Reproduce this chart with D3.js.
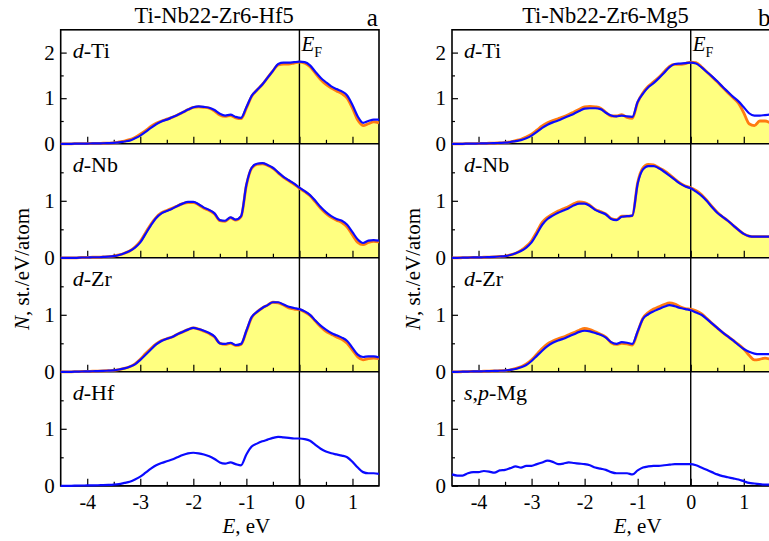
<!doctype html>

<meta charset="utf-8">
<title>Partial DOS Ti-Nb22-Zr6</title>

<style>
body { margin: 0; background: #fff; }
svg { display: block; }
svg text { font-family: "Liberation Serif", "Times New Roman", Times, serif; }
</style>

<svg id="visual" width="769" height="541"></svg>

<script src="https://cdn.jsdelivr.net/npm/d3@7"></script>

<script>

// (energy grid, eV)
var energy = [
	-4.5, -4.4, -4.3, -4.2, -4.1, -4.0, -3.9, -3.8, -3.7, -3.6,
	-3.5, -3.4, -3.3, -3.2, -3.1, -3.0, -2.9, -2.8, -2.7, -2.6,
	-2.5, -2.4, -2.3, -2.2, -2.1, -2.0, -1.9, -1.8, -1.7, -1.6,
	-1.5, -1.4, -1.3, -1.2, -1.1, -1.0, -0.9, -0.8, -0.7, -0.6,
	-0.5, -0.4, -0.3, -0.2, -0.1, 0.0, 0.1, 0.2, 0.3, 0.4,
	0.5, 0.6, 0.7, 0.8, 0.9, 1.0, 1.1, 1.2, 1.3, 1.4,
	1.5
];

// (Ti-Nb22-Zr6-Hf5)
var hfTiBlue = [
	0, 0, 0, 0.003, 0.005, 0.006, 0.008, 0.01, 0.012, 0.015,
	0.02, 0.03, 0.05, 0.07, 0.12, 0.18, 0.26, 0.35, 0.43, 0.49,
	0.53, 0.58, 0.63, 0.69, 0.75, 0.80, 0.82, 0.81, 0.79, 0.74,
	0.66, 0.62, 0.64, 0.59, 0.57, 0.80, 1.05, 1.18, 1.30, 1.45,
	1.60, 1.75, 1.78, 1.78, 1.79, 1.80, 1.79, 1.72, 1.58, 1.45,
	1.35, 1.26, 1.20, 1.15, 1.06, 0.85, 0.60, 0.46, 0.50, 0.53,
	0.53
];
var hfTiOrange = [
	0, 0, 0, 0.003, 0.005, 0.006, 0.008, 0.01, 0.012, 0.015,
	0.02, 0.04, 0.06, 0.09, 0.14, 0.21, 0.29, 0.38, 0.45, 0.50,
	0.54, 0.58, 0.63, 0.69, 0.75, 0.80, 0.81, 0.80, 0.78, 0.72,
	0.63, 0.60, 0.62, 0.57, 0.55, 0.78, 1.04, 1.18, 1.30, 1.45,
	1.60, 1.73, 1.75, 1.75, 1.77, 1.79, 1.77, 1.69, 1.55, 1.41,
	1.30, 1.22, 1.16, 1.10, 1.00, 0.78, 0.52, 0.40, 0.44, 0.48,
	0.46
];
var hfNbBlue = [
	0, 0, 0, 0, 0.005, 0.005, 0.01, 0.01, 0.015, 0.02,
	0.03, 0.05, 0.08, 0.12, 0.18, 0.27, 0.42, 0.57, 0.70, 0.78,
	0.82, 0.86, 0.91, 0.95, 0.98, 0.98, 0.94, 0.88, 0.84, 0.78,
	0.66, 0.65, 0.71, 0.67, 0.73, 1.28, 1.58, 1.65, 1.66, 1.63,
	1.58, 1.50, 1.42, 1.36, 1.30, 1.23, 1.17, 1.10, 1.00, 0.89,
	0.80, 0.73, 0.68, 0.65, 0.58, 0.45, 0.32, 0.26, 0.30, 0.31,
	0.30
];
var hfNbOrange = [
	0, 0, 0, 0, 0.005, 0.005, 0.01, 0.01, 0.015, 0.02,
	0.03, 0.05, 0.08, 0.12, 0.19, 0.29, 0.44, 0.59, 0.71, 0.79,
	0.83, 0.87, 0.91, 0.95, 0.97, 0.97, 0.93, 0.87, 0.83, 0.77,
	0.65, 0.64, 0.70, 0.66, 0.72, 1.27, 1.57, 1.64, 1.65, 1.62,
	1.57, 1.49, 1.41, 1.35, 1.29, 1.22, 1.16, 1.09, 0.98, 0.87,
	0.78, 0.71, 0.66, 0.62, 0.54, 0.40, 0.27, 0.23, 0.27, 0.29,
	0.28
];
var hfZrBlue = [
	0, 0, 0, 0.003, 0.005, 0.007, 0.01, 0.012, 0.015, 0.02,
	0.025, 0.04, 0.06, 0.09, 0.13, 0.21, 0.30, 0.39, 0.48, 0.54,
	0.58, 0.61, 0.66, 0.70, 0.74, 0.77, 0.75, 0.72, 0.68, 0.62,
	0.50, 0.49, 0.51, 0.47, 0.49, 0.72, 0.96, 1.05, 1.12, 1.17,
	1.22, 1.22, 1.18, 1.14, 1.12, 1.10, 1.06, 1.00, 0.90, 0.81,
	0.74, 0.68, 0.64, 0.60, 0.54, 0.42, 0.30, 0.26, 0.27, 0.27,
	0.25
];
var hfZrOrange = [
	0, 0, 0, 0.003, 0.005, 0.007, 0.01, 0.012, 0.015, 0.02,
	0.025, 0.04, 0.06, 0.09, 0.14, 0.22, 0.32, 0.41, 0.49, 0.55,
	0.58, 0.61, 0.66, 0.70, 0.74, 0.77, 0.75, 0.71, 0.67, 0.61,
	0.50, 0.48, 0.50, 0.46, 0.48, 0.71, 0.95, 1.05, 1.12, 1.17,
	1.22, 1.21, 1.17, 1.12, 1.10, 1.09, 1.05, 0.99, 0.89, 0.79,
	0.71, 0.66, 0.61, 0.57, 0.50, 0.38, 0.26, 0.21, 0.23, 0.24,
	0.23
];
var hfHf = [
	0, 0, 0, 0.003, 0.005, 0.006, 0.008, 0.01, 0.012, 0.015,
	0.02, 0.03, 0.05, 0.07, 0.11, 0.16, 0.23, 0.30, 0.36, 0.40,
	0.43, 0.46, 0.50, 0.54, 0.57, 0.58, 0.57, 0.55, 0.52, 0.47,
	0.41, 0.39, 0.41, 0.38, 0.36, 0.55, 0.69, 0.74, 0.78, 0.81,
	0.84, 0.86, 0.85, 0.84, 0.83, 0.83, 0.82, 0.79, 0.72, 0.65,
	0.60, 0.57, 0.55, 0.53, 0.50, 0.42, 0.32, 0.24, 0.22, 0.22,
	0.21
];

// (Ti-Nb22-Zr6-Mg5)
var mgTiBlue = [
	0, 0, 0, 0.003, 0.005, 0.007, 0.01, 0.012, 0.015, 0.02,
	0.025, 0.04, 0.06, 0.08, 0.12, 0.18, 0.26, 0.35, 0.42, 0.47,
	0.51, 0.56, 0.61, 0.66, 0.72, 0.77, 0.78, 0.78, 0.76, 0.68,
	0.62, 0.60, 0.62, 0.60, 0.59, 0.92, 1.10, 1.24, 1.33, 1.44,
	1.56, 1.68, 1.75, 1.76, 1.77, 1.78, 1.76, 1.68, 1.58, 1.48,
	1.37, 1.25, 1.14, 1.03, 0.93, 0.80, 0.67, 0.62, 0.62, 0.63,
	0.64
];
var mgTiOrange = [
	0, 0, 0, 0.003, 0.005, 0.007, 0.01, 0.012, 0.015, 0.02,
	0.025, 0.04, 0.07, 0.10, 0.15, 0.21, 0.30, 0.39, 0.46, 0.51,
	0.55, 0.59, 0.64, 0.70, 0.76, 0.81, 0.82, 0.81, 0.78, 0.69,
	0.61, 0.61, 0.64, 0.58, 0.56, 0.91, 1.12, 1.26, 1.36, 1.46,
	1.58, 1.70, 1.74, 1.74, 1.76, 1.79, 1.78, 1.69, 1.58, 1.47,
	1.36, 1.24, 1.12, 1.01, 0.89, 0.68, 0.44, 0.40, 0.50, 0.50,
	0.46
];
var mgNbBlue = [
	0, 0, 0.002, 0.004, 0.006, 0.008, 0.01, 0.013, 0.017, 0.023,
	0.03, 0.05, 0.08, 0.12, 0.18, 0.27, 0.42, 0.58, 0.68, 0.74,
	0.79, 0.83, 0.87, 0.92, 0.95, 0.95, 0.91, 0.84, 0.80, 0.76,
	0.68, 0.66, 0.72, 0.73, 0.74, 1.30, 1.55, 1.61, 1.61, 1.57,
	1.51, 1.44, 1.37, 1.30, 1.25, 1.22, 1.16, 1.09, 1.00, 0.89,
	0.79, 0.72, 0.65, 0.57, 0.49, 0.42, 0.38, 0.37, 0.37, 0.37,
	0.37
];
var mgNbOrange = [
	0, 0, 0.002, 0.004, 0.006, 0.008, 0.01, 0.013, 0.017, 0.023,
	0.03, 0.05, 0.08, 0.13, 0.20, 0.30, 0.46, 0.62, 0.71, 0.77,
	0.82, 0.86, 0.90, 0.95, 0.98, 0.97, 0.92, 0.85, 0.81, 0.77,
	0.69, 0.67, 0.73, 0.73, 0.74, 1.32, 1.58, 1.64, 1.63, 1.58,
	1.53, 1.46, 1.38, 1.31, 1.26, 1.23, 1.18, 1.11, 1.01, 0.90,
	0.80, 0.72, 0.65, 0.57, 0.49, 0.42, 0.38, 0.37, 0.37, 0.37,
	0.37
];
var mgZrBlue = [
	0, 0, 0.002, 0.004, 0.006, 0.008, 0.01, 0.012, 0.015, 0.018,
	0.022, 0.035, 0.05, 0.08, 0.12, 0.19, 0.28, 0.37, 0.45, 0.51,
	0.55, 0.58, 0.62, 0.66, 0.70, 0.72, 0.71, 0.68, 0.65, 0.60,
	0.52, 0.49, 0.52, 0.51, 0.49, 0.71, 0.93, 1.01, 1.06, 1.10,
	1.14, 1.17, 1.15, 1.12, 1.10, 1.08, 1.04, 1.00, 0.93, 0.85,
	0.77, 0.69, 0.62, 0.55, 0.47, 0.40, 0.35, 0.32, 0.31, 0.31,
	0.31
];
var mgZrOrange = [
	0, 0, 0.002, 0.004, 0.006, 0.008, 0.01, 0.012, 0.015, 0.018,
	0.022, 0.035, 0.06, 0.09, 0.14, 0.21, 0.31, 0.41, 0.49, 0.54,
	0.58, 0.61, 0.65, 0.69, 0.73, 0.76, 0.74, 0.70, 0.66, 0.61,
	0.51, 0.48, 0.50, 0.49, 0.47, 0.70, 0.94, 1.04, 1.10, 1.14,
	1.18, 1.21, 1.19, 1.14, 1.11, 1.10, 1.07, 1.02, 0.94, 0.85,
	0.77, 0.69, 0.62, 0.55, 0.48, 0.40, 0.29, 0.21, 0.22, 0.24,
	0.22
];
var mgMg = [
	0.20, 0.18, 0.18, 0.22, 0.24, 0.24, 0.26, 0.25, 0.23, 0.27,
	0.28, 0.31, 0.34, 0.32, 0.35, 0.35, 0.38, 0.41, 0.44, 0.42,
	0.38, 0.39, 0.41, 0.40, 0.39, 0.38, 0.36, 0.32, 0.30, 0.28,
	0.24, 0.22, 0.22, 0.22, 0.20, 0.27, 0.32, 0.34, 0.35, 0.35,
	0.36, 0.37, 0.38, 0.38, 0.38, 0.38, 0.36, 0.32, 0.28, 0.24,
	0.20, 0.17, 0.15, 0.13, 0.11, 0.08, 0.05, 0.04, 0.03, 0.02,
	0.02
];

// (labels and ticks)
var titles = ["Ti-Nb22-Zr6-Hf5", "Ti-Nb22-Zr6-Mg5"];
var letters = ["a", "b"];
var rowLabels = [
	[[["d", true], ["-Ti", false]], [["d", true], ["-Nb", false]], [["d", true], ["-Zr", false]], [["d", true], ["-Hf", false]]],
	[[["d", true], ["-Ti", false]], [["d", true], ["-Nb", false]], [["d", true], ["-Zr", false]], [["s", true], [",", false], ["p", true], ["-Mg", false]]]
];
var yMax = [2.5, 2, 2, 2];
var yTicksMajor = [[0, 1, 2], [0, 1], [0, 1], [0, 1]];
var yTicksMinor = [0.5, 1.5];
var xTicksMajor = [-4, -3, -2, -1, 0, 1];
var xTicksMinor = [-3.5, -2.5, -1.5, -0.5, 0.5];

// (panels)
var panels = [
	{x0: 60.7, rows: [
		{fill: hfTiOrange, orange: hfTiOrange, blue: hfTiBlue},
		{fill: hfNbOrange, orange: hfNbOrange, blue: hfNbBlue},
		{fill: hfZrOrange, orange: hfZrOrange, blue: hfZrBlue},
		{blue: hfHf}
	]},
	{x0: 452, rows: [
		{fill: mgTiOrange, orange: mgTiOrange, blue: mgTiBlue},
		{fill: mgNbOrange, orange: mgNbOrange, blue: mgNbBlue},
		{fill: mgZrOrange, orange: mgZrOrange, blue: mgZrBlue},
		{blue: mgMg}
	]}
];

var serif = "'Liberation Serif', 'Times New Roman', Times, serif";
var plotW = 318.3;
var plotTop = 29.8;
var rowH = 114;

var svg = d3.select("#visual").attr("font-family", serif);

function styleAxis(g, size) {
	g.attr("font-family", serif).attr("font-size", size);
	g.select(".domain").remove();
	g.selectAll(".tick line").attr("stroke", "#000").attr("stroke-width", 1.2);
	g.selectAll(".tick text").attr("fill", "#000");
}

panels.forEach(function(p, pi) {
	var x = d3.scaleLinear().domain([-4.5, 1.5]).range([p.x0, p.x0 + plotW]);
	var g = svg.append("g");
	var gFill = g.append("g"), gAxes = g.append("g"), gLines = g.append("g");

	p.rows.forEach(function(r, i) {
		var y = d3.scaleLinear().domain([0, yMax[i]]).range([plotTop + (i + 1) * rowH, plotTop + i * rowH]);

		var area = d3.area()
			.x(function(d) { return x(d[0]); })
			.y0(y(0))
			.y1(function(d) { return y(d[1]); })
			.curve(d3.curveMonotoneX);
		var line = d3.line()
			.x(function(d) { return x(d[0]); })
			.y(function(d) { return y(d[1]); })
			.curve(d3.curveMonotoneX);

		if (r.fill) {
			gFill.append("path")
				.datum(d3.zip(energy, r.fill))
				.attr("d", area)
				.attr("fill", "#ffff80");
		}
		if (r.orange) {
			gLines.append("path")
				.datum(d3.zip(energy, r.orange))
				.attr("d", line)
				.attr("fill", "none")
				.attr("stroke", "#ff7a10")
				.attr("stroke-width", 2.8);
		}
		gLines.append("path")
			.datum(d3.zip(energy, r.blue))
			.attr("d", line)
			.attr("fill", "none")
			.attr("stroke", "#0a0aff")
			.attr("stroke-width", 2.2);

		// y ticks, inward
		gAxes.append("g")
			.attr("transform", "translate(" + p.x0 + ",0)")
			.call(d3.axisLeft(y).tickValues(yTicksMajor[i]).tickSizeInner(-6).tickSizeOuter(0)
				.tickPadding(6).tickFormat(function(d) { return String(d); }))
			.call(styleAxis, 21);
		gAxes.append("g")
			.attr("transform", "translate(" + p.x0 + ",0)")
			.call(d3.axisLeft(y).tickValues(yTicksMinor).tickSizeInner(-3).tickSizeOuter(0).tickFormat(""))
			.call(styleAxis, 21);

		// x ticks, pointing up
		gAxes.append("g")
			.attr("transform", "translate(0," + y(0) + ")")
			.call(d3.axisBottom(x).tickValues(xTicksMajor).tickSizeInner(-7).tickSizeOuter(0)
				.tickPadding(9).tickFormat(i === 3 ? function(d) { return String(d); } : ""))
			.call(styleAxis, 20);
		gAxes.append("g")
			.attr("transform", "translate(0," + y(0) + ")")
			.call(d3.axisBottom(x).tickValues(xTicksMinor).tickSizeInner(-4).tickSizeOuter(0).tickFormat(""))
			.call(styleAxis, 20);

		// row separator
		gAxes.append("line")
			.attr("x1", p.x0).attr("x2", p.x0 + plotW)
			.attr("y1", y(0)).attr("y2", y(0))
			.attr("stroke", "#000").attr("stroke-width", 1.6);

		// row label
		var lab = g.append("text")
			.attr("x", p.x0 + 12)
			.attr("y", plotTop + i * rowH + 28)
			.attr("font-size", 22);
		rowLabels[pi][i].forEach(function(part) {
			lab.append("tspan").text(part[0]).attr("font-style", part[1] ? "italic" : "normal");
		});
	});

	// frame
	gAxes.append("rect")
		.attr("x", p.x0).attr("y", plotTop)
		.attr("width", plotW).attr("height", 4 * rowH)
		.attr("fill", "none").attr("stroke", "#000").attr("stroke-width", 1.6);

	// Fermi level
	gAxes.append("line")
		.attr("x1", x(0)).attr("x2", x(0))
		.attr("y1", plotTop).attr("y2", plotTop + 4 * rowH)
		.attr("stroke", "#000").attr("stroke-width", 1.4);
	var ef = g.append("text").attr("x", x(0) + 2).attr("y", plotTop + 21);
	ef.append("tspan").text("E").attr("font-style", "italic").attr("font-size", 21);
	ef.append("tspan").text("F").attr("dy", 6).attr("font-size", 14);

	// titles
	g.append("text")
		.attr("x", p.x0 + 153.5).attr("y", 23)
		.attr("text-anchor", "middle")
		.attr("font-size", 22.5)
		.text(titles[pi]);
	g.append("text")
		.attr("x", p.x0 + 306).attr("y", 26)
		.attr("font-size", 25)
		.text(letters[pi]);

	// axis titles
	var yt = g.append("text")
		.attr("transform", "translate(" + (p.x0 - 32) + "," + 269 + ") rotate(-90)")
		.attr("text-anchor", "middle")
		.attr("font-size", 21);
	yt.append("tspan").text("N").attr("font-style", "italic");
	yt.append("tspan").text(", st./eV/atom");

	var xt = g.append("text")
		.attr("x", x(-1.0)).attr("y", 533)
		.attr("text-anchor", "middle")
		.attr("font-size", 21);
	xt.append("tspan").text("E").attr("font-style", "italic");
	xt.append("tspan").text(", eV");
});

</script>
